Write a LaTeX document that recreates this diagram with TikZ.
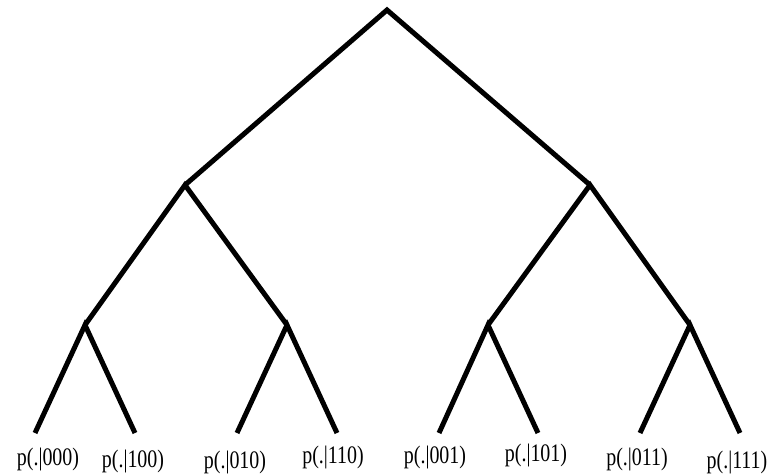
\documentclass[tikz,border=0pt]{standalone}
\usepackage{fontspec}
\setmainfont{Liberation Serif}
\newcommand{\tallish}[1]{\scalebox{0.95}[1.2]{#1}}
\begin{document}
\begin{tikzpicture}[x=1pt,y=-1pt,
  edge/.style={line width=5pt,line cap=butt,line join=miter},
  lab/.style={font=\fontsize{21}{23}\selectfont,inner sep=0pt}]
\useasboundingbox (0,0) rectangle (781,474);
\coordinate (r) at (387,10);
\coordinate (a) at (185,185);
\coordinate (b) at (590,185);
\coordinate (a1) at (85,325);
\coordinate (a2) at (287,325);
\coordinate (b1) at (488,325);
\coordinate (b2) at (690,325);
\coordinate (l1) at (35,433);
\coordinate (l2) at (135,433);
\coordinate (l3) at (237,433);
\coordinate (l4) at (337,433);
\coordinate (l5) at (439,433);
\coordinate (l6) at (538,433);
\coordinate (l7) at (640,433);
\coordinate (l8) at (740,433);
\draw[edge] (a) -- (r) -- (b);
\draw[edge] (a1) -- (a) -- (a2);
\draw[edge] (b1) -- (b) -- (b2);
\draw[edge] (l1) -- (a1) -- (l2);
\draw[edge] (l3) -- (a2) -- (l4);
\draw[edge] (l5) -- (b1) -- (l6);
\draw[edge] (l7) -- (b2) -- (l8);
\node[lab] (t1) at (48,459) {\tallish{p(.|000)}};
\node[lab] (t2) at (133,461) {\tallish{p(.|100)}};
\node[lab] (t3) at (235,462) {\tallish{p(.|010)}};
\node[lab] (t4) at (333,457) {\tallish{p(.|110)}};
\node[lab] (t5) at (435,457) {\tallish{p(.|001)}};
\node[lab] (t6) at (536,455) {\tallish{p(.|101)}};
\node[lab] (t7) at (637,459) {\tallish{p(.|011)}};
\node[lab] (t8) at (737,462) {\tallish{p(.|111)}};
\end{tikzpicture}
\end{document}
